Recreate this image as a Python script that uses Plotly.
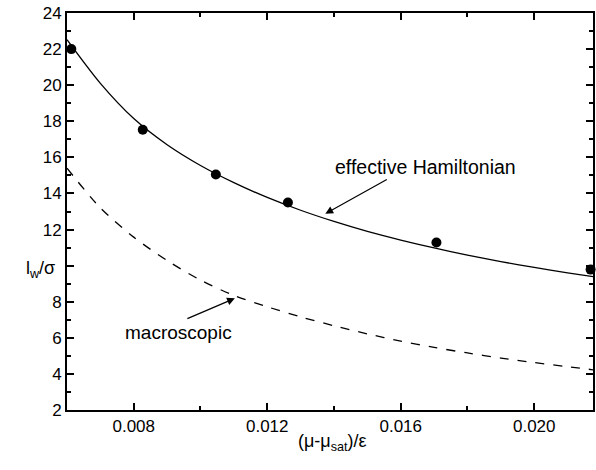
import plotly.graph_objects as go

# Simulation results: interface width vs. undersaturation
x_points = [0.00613, 0.00827, 0.01046, 0.01262, 0.01707, 0.02169]
y_points = [22.0, 17.53, 15.05, 13.5, 11.28, 9.78]

# Effective Hamiltonian prediction (solid line)
x_eff = [0.0060, 0.0070, 0.0080, 0.0090, 0.0100, 0.0110, 0.0120, 0.0130, 0.0140,
         0.0150, 0.0160, 0.0170, 0.0180, 0.0190, 0.0200, 0.0210, 0.0218]
y_eff = [22.52, 20.1, 18.15, 16.7, 15.55, 14.6, 13.78, 13.07, 12.45,
         11.9, 11.42, 10.98, 10.58, 10.22, 9.9, 9.6, 9.38]

# Macroscopic prediction (dashed line)
x_mac = [0.0060, 0.0070, 0.0080, 0.0090, 0.0100, 0.0110, 0.0120, 0.0130, 0.0140,
         0.0150, 0.0160, 0.0170, 0.0180, 0.0190, 0.0200, 0.0210, 0.0218]
y_mac = [15.4, 13.2, 11.58, 10.28, 9.2, 8.35, 7.72, 7.16, 6.67,
         6.22, 5.82, 5.47, 5.16, 4.88, 4.63, 4.4, 4.22]

x_ticks = [0.008, 0.012, 0.016, 0.020]
x_ticklabels = ["0.008", "0.012", "0.016", "0.020"]
y_ticks = list(range(2, 25, 2))
# the label at 10 is left blank: the axis title sits there
y_ticklabels = ["" if v == 10 else str(v) for v in y_ticks]

FONT = "Liberation Sans, Arial, sans-serif"

fig = go.Figure()
fig.add_trace(go.Scatter(x=x_eff, y=y_eff, mode="lines",
                         line=dict(color="black", width=1.3, shape="spline", smoothing=0.8),
                         showlegend=False, hoverinfo="skip"))
fig.add_trace(go.Scatter(x=x_mac, y=y_mac, mode="lines",
                         line=dict(color="black", width=1.3, dash="dash", shape="spline", smoothing=0.8),
                         showlegend=False, hoverinfo="skip"))
fig.add_trace(go.Scatter(x=x_points, y=y_points, mode="markers",
                         marker=dict(color="black", size=10),
                         showlegend=False, cliponaxis=False))

axis_common = dict(
    showgrid=False, zeroline=False, showline=True, linecolor="black", linewidth=2,
    mirror="allticks", ticks="inside", ticklen=7, tickwidth=2, tickcolor="black",
    tickfont=dict(family=FONT, size=17, color="black"),
)

fig.update_xaxes(range=[0.006, 0.006 + 528 / 33500], tickvals=x_ticks, ticktext=x_ticklabels,
                 minor=dict(ticks="inside", ticklen=4, tickwidth=2, tickcolor="black",
                            tickvals=[0.010, 0.014, 0.018]),
                 **axis_common)
fig.update_yaxes(range=[2, 24], tickvals=y_ticks, ticktext=y_ticklabels,
                 minor=dict(ticks="inside", ticklen=4, tickwidth=2, tickcolor="black",
                            tickvals=list(range(3, 24, 2))),
                 **axis_common)

# Labels and arrows
fig.add_annotation(x=0.01673, y=15.46, text="effective Hamiltonian", showarrow=False,
                   font=dict(family=FONT, size=19.5, color="black"))
fig.add_annotation(x=0.01374, y=12.88, text="", showarrow=True, ax=63, ay=-35,
                   arrowhead=2, arrowsize=1.3, arrowwidth=1.2, arrowcolor="black")
fig.add_annotation(x=0.00935, y=6.27, text="macroscopic", showarrow=False,
                   font=dict(family=FONT, size=19, color="black"))
fig.add_annotation(x=0.01103, y=8.19, text="", showarrow=True, ax=-49, ay=21,
                   arrowhead=2, arrowsize=1.3, arrowwidth=1.2, arrowcolor="black")

# Axis titles
fig.add_annotation(xref="paper", yref="paper", x=0.504, y=-0.115, text="(μ-μ<sub>sat</sub>)/ε",
                   showarrow=False, font=dict(family=FONT, size=18, color="black"))
fig.add_annotation(xref="paper", yref="paper", x=-0.019, y=0.355, text="l<sub>w</sub>/σ",
                   xanchor="right", showarrow=False, font=dict(family=FONT, size=18, color="black"))

fig.update_layout(width=596, height=470, margin=dict(l=67, r=1, t=13, b=60),
                  paper_bgcolor="white", plot_bgcolor="white")

fig.write_html("out.html")
